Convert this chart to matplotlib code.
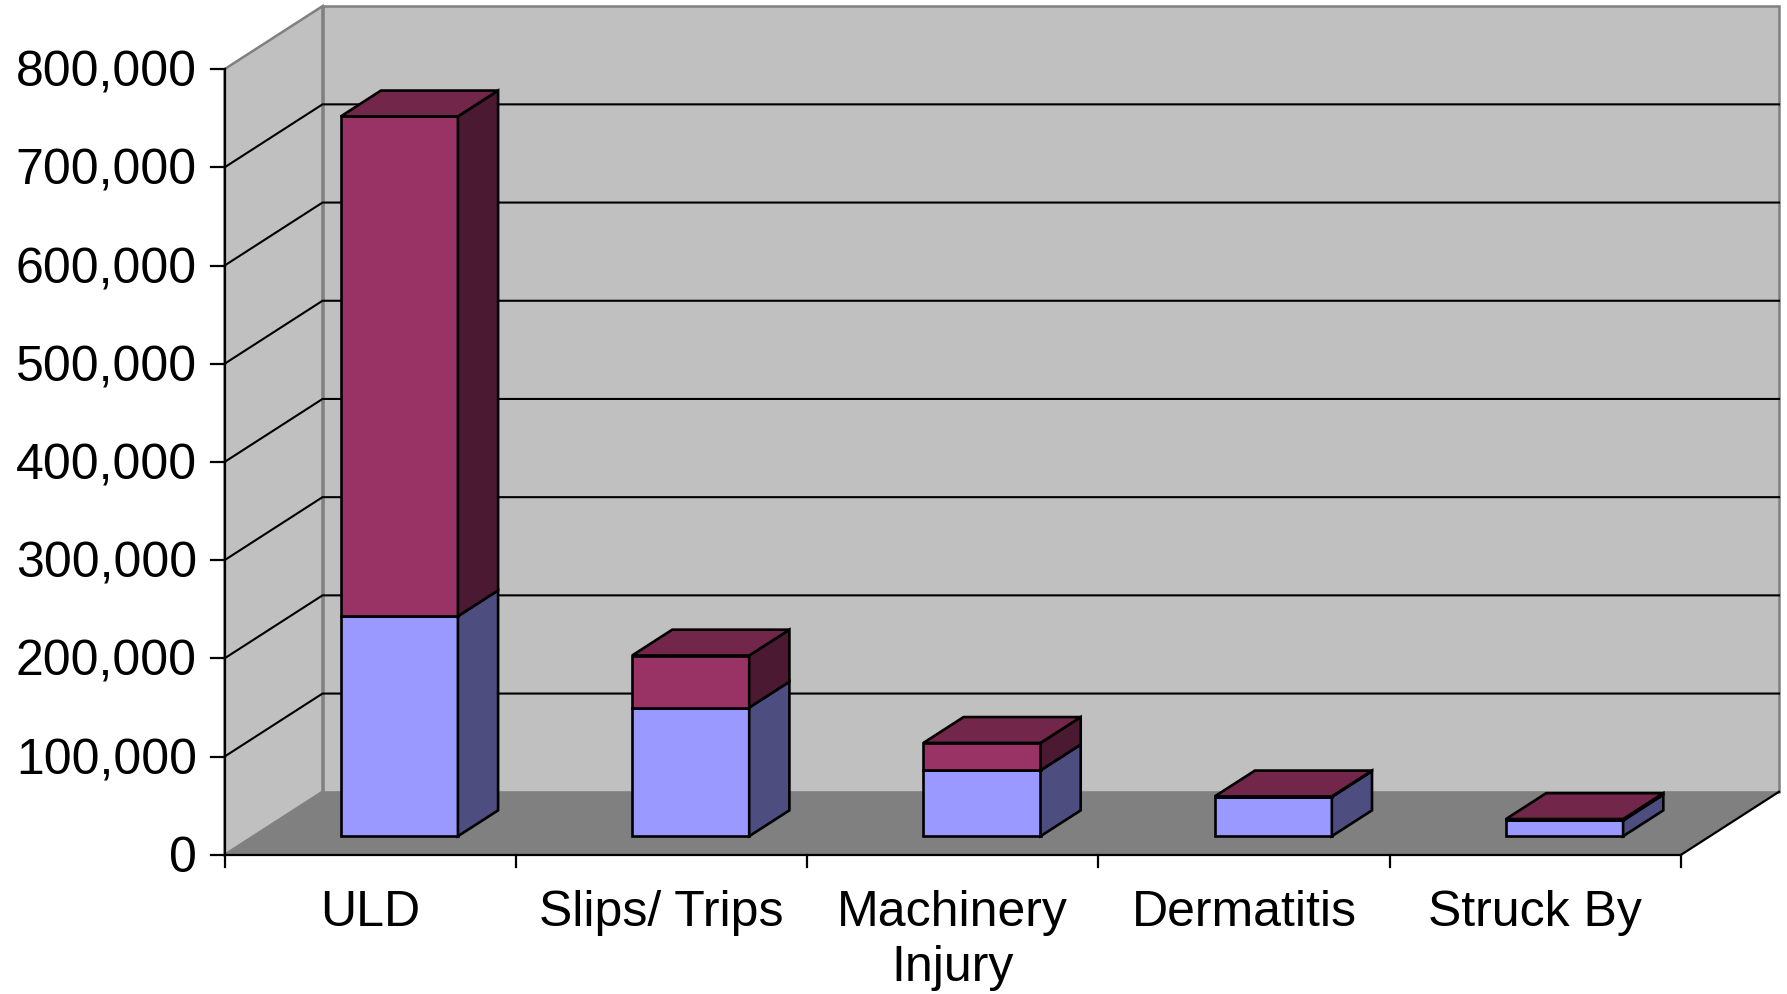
import numpy as np
import matplotlib.pyplot as plt
from matplotlib.patches import Polygon

plt.rcParams['font.family'] = ['Liberation Sans', 'DejaVu Sans']

# ----DATI----
categories = ["ULD", "Slips/ Trips", "Machinery\nInjury", "Dermatitis", "Struck By"]
lower_values = [224000, 131000, 67000, 40000, 16000]
upper_values = [509000, 53000, 28000, 500, 1500]
y_ticks = [0, 100000, 200000, 300000, 400000, 500000, 600000, 700000, 800000]
y_max = 800000

# ----GEOMETRIA 3D (proiezione obliqua)----
DX = 0.3364        # spostamento orizzontale per profondita' piena (unita' categoria)
DY = 64200         # spostamento verticale per profondita' piena (unita' valore)
f_front, f_back = 0.295, 0.705   # profondita' delle barre
bar_left, bar_w = 0.30, 0.402

def pt(x, y, d):
    return (x + d * DX, y + d * DY)

wall = '#c0c0c0'
floor = '#808080'
edge_gray = '#808080'
colors_low = ('#9999ff', '#4d4d80', '#7373bf')
colors_high = ('#993366', '#4c1933', '#72264a')

fig = plt.figure(figsize=(17.87, 9.94), dpi=100)
ax = fig.add_axes([0, 0, 1, 1])
ax.set_xlim(-0.7707, 5.3638)
ax.set_ylim(-141750, 870470)
ax.axis('off')

n = len(categories)

# Pareti e pavimento
ax.add_patch(Polygon([pt(0, 0, 1), pt(n, 0, 1), pt(n, y_max, 1), pt(0, y_max, 1)],
                     closed=True, facecolor=wall, edgecolor=edge_gray, lw=1.8, zorder=1))
ax.add_patch(Polygon([pt(0, 0, 0), pt(0, 0, 1), pt(0, y_max, 1), pt(0, y_max, 0)],
                     closed=True, facecolor=wall, edgecolor=edge_gray, lw=1.8, zorder=1))
ax.add_patch(Polygon([pt(0, 0, 0), pt(n, 0, 0), pt(n, 0, 1), pt(0, 0, 1)],
                     closed=True, facecolor=floor, edgecolor='none', zorder=2))

# Griglia
for v in y_ticks[1:-1]:
    a, b, c = pt(0, v, 0), pt(0, v, 1), pt(n, v, 1)
    ax.plot([a[0], b[0], c[0]], [a[1], b[1], c[1]], color='black', lw=1.5, zorder=3)

# Assi
ax.plot([0, 0], [0, y_max], color='black', lw=1.6, zorder=6)
ax.plot([0, n], [0, 0], color='black', lw=1.6, zorder=6)
r0, r1 = pt(n, 0, 0), pt(n, 0, 1)
ax.plot([r0[0], r1[0]], [r0[1], r1[1]], color='black', lw=1.6, zorder=6)

for v in y_ticks:
    ax.plot([-0.048, 0], [v, v], color='black', lw=1.6, zorder=6)
    ax.text(-0.095, v - 4500, f"{v:,}", ha='right', va='center', fontsize=36, zorder=6)

for i in range(n + 1):
    ax.plot([i, i], [0, -12500], color='black', lw=1.6, zorder=6)

for i, cat in enumerate(categories):
    ax.text(i + 0.5, -35500, cat, ha='center', va='top', fontsize=36,
            linespacing=1.25, zorder=6)

# Barre impilate
def draw_box(x0, y0, h, cols, top=True):
    x1 = x0 + bar_w
    y1 = y0 + h
    front = [pt(x0, y0, f_front), pt(x1, y0, f_front), pt(x1, y1, f_front), pt(x0, y1, f_front)]
    side = [pt(x1, y0, f_front), pt(x1, y0, f_back), pt(x1, y1, f_back), pt(x1, y1, f_front)]
    ax.add_patch(Polygon(front, closed=True, facecolor=cols[0], edgecolor='black', lw=1.9, zorder=5))
    ax.add_patch(Polygon(side, closed=True, facecolor=cols[1], edgecolor='black', lw=1.9, zorder=5))
    if top:
        lid = [pt(x0, y1, f_front), pt(x1, y1, f_front), pt(x1, y1, f_back), pt(x0, y1, f_back)]
        ax.add_patch(Polygon(lid, closed=True, facecolor=cols[2], edgecolor='black', lw=1.9, zorder=5))

for i in range(n):
    x0 = i + bar_left
    draw_box(x0, 0, lower_values[i], colors_low, top=False)
    draw_box(x0, lower_values[i], upper_values[i], colors_high, top=True)

fig.savefig("out.png", dpi=100, facecolor='white')
